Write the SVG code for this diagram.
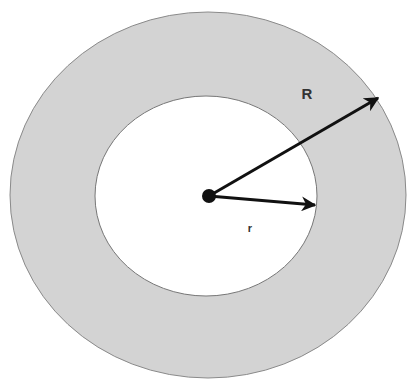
<svg xmlns="http://www.w3.org/2000/svg" width="407" height="380" viewBox="0 0 407 380">
<defs>
<style>
.ring{fill:#d3d3d3;stroke:#8a8a8a;stroke-width:1}
.hole{fill:#ffffff;stroke:#777777;stroke-width:1}
.arrow{stroke:#111;stroke-width:3;fill:none;marker-end:url(#ah)}
.lbl{font-family:"Liberation Sans",Arial,sans-serif;fill:#333;font-weight:bold}
</style>
<marker id="ah" viewBox="0 0 10 10" refX="9" refY="5" markerWidth="5" markerHeight="5" orient="auto" markerUnits="strokeWidth">
<path d="M0,0 L10,5 L0,10 L3,5 z" fill="#111"/>
</marker>
</defs>
<rect width="407" height="380" fill="#ffffff"/>
<g id="outer"><ellipse class="ring" cx="208" cy="195" rx="198" ry="183"/></g>
<g id="inner"><ellipse class="hole" cx="206" cy="196" rx="111" ry="100"/></g>
<g id="connectors">
<line class="arrow" x1="209" y1="196" x2="378" y2="98"/>
<line class="arrow" x1="209" y1="196" x2="315" y2="205"/>
</g>
<g id="center"><circle cx="209" cy="196" r="7" fill="#111"/></g>
<g id="labels">
<text class="lbl" x="307" y="99" font-size="15" text-anchor="middle">R</text>
<text class="lbl" x="250" y="232" font-size="11" text-anchor="middle">r</text>
</g>
</svg>
